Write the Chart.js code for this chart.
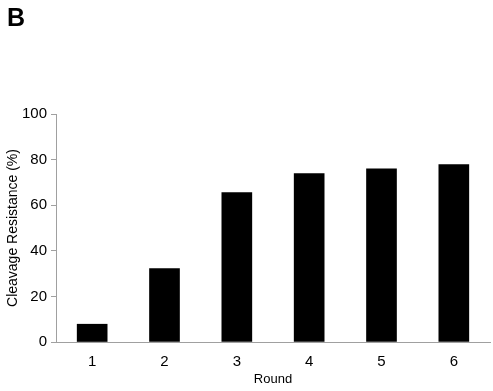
<!DOCTYPE html>
<html>
<head>
<meta charset="utf-8">
<script src="https://cdn.jsdelivr.net/npm/chart.js@4.4.0/dist/chart.umd.min.js"></script>
<style>
  html, body { margin: 0; padding: 0; background: #fff; }
  #wrap { position: relative; width: 493px; height: 391px; }
  #panel { position: absolute; left: 7px; top: 3px; font: bold 25px "Liberation Sans", Arial, sans-serif; color: #000; }
</style>
</head>
<body>
<div id="wrap">
  <div id="panel">B</div>
  <canvas id="chart" width="493" height="391"></canvas>
</div>
<script>
// Datos
const rounds = ['1', '2', '3', '4', '5', '6'];
const resistance = [7.8, 32.2, 65.5, 73.9, 75.9, 77.8];
const yTicks = [0, 20, 40, 60, 80, 100];

const font = { family: '"Liberation Sans", Arial, sans-serif', size: 15 };
const axisGrey = '#a0a0a0';

new Chart(document.getElementById('chart'), {
    type: 'bar',
    data: {
        labels: rounds,
        datasets: [{
            data: resistance,
            backgroundColor: '#000',
            borderWidth: 0,
            barThickness: 30
        }]
    },
    options: {
        responsive: false,
        animation: false,
        layout: { padding: { top: 114, right: 3, left: 1, bottom: 0 } },
        plugins: { legend: { display: false }, tooltip: { enabled: false } },
        scales: {
            x: {
                grid: { drawOnChartArea: false, drawTicks: false },
                border: { color: axisGrey, width: 1 },
                ticks: { color: '#000', font: font, padding: 11 },
                title: { display: true, text: 'Round', color: '#000', font: { ...font, size: 13 }, padding: { top: 3 } },
                afterFit: (s) => { s.height = 49; }
            },
            y: {
                min: 0,
                max: 100,
                afterBuildTicks: (s) => { s.ticks = yTicks.map(v => ({ value: v })); },
                grid: { drawOnChartArea: false, drawTicks: true, tickLength: 5, color: axisGrey },
                border: { color: axisGrey, width: 1 },
                ticks: { color: '#000', font: font, padding: 4 },
                title: { display: true, text: 'Cleavage Resistance (%)', color: '#000', font: { ...font, size: 14 }, padding: { bottom: 0 } },
                afterFit: (s) => { s.width = 55; }
            }
        }
    }
});
</script>
</body>
</html>
